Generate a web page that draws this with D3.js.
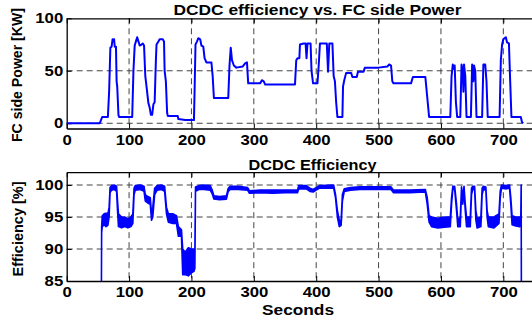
<!DOCTYPE html>
<html>
<head>
<meta charset="utf-8">
<script src="https://cdn.jsdelivr.net/npm/d3@7"></script>
<style>
  body { margin: 0; background: #fff; }
  text { font-family: "Liberation Sans", Arial, sans-serif; font-weight: bold; fill: #000; }
</style>
</head>
<body>
<div id="chart"></div>
<script>
// seconds vs FC side power [kW]
const powerData = [
  [0,0],[53,0],[55,3],[57,6],[66,6],[68,30],[70,72],[72,73],[73.5,80],[75,78],[76,80],[77,73],[79,73],
  [80,40],[81,35],[83,8],[84,6],[105,6],[107,50],[109,74],[111,78],[113,82],[115,78],[117,74],[120,75],
  [122,76],[124,74],[126,45],[128,35],[131,19],[133,15],[135,8],[137,8],[139,18],[141,20],[143,60],
  [144,75],[147,78],[149,80],[154,80],[156,78],[157,50],[159,40],[161,10],[162,7],[178,7],[179,4],
  [190,3],[204,3],[205,30],[206.5,75],[209,78],[211,81],[214,80],[216,74],[219,73],[221,62],[224,58],
  [232,58],[234,45],[236,24],[259,24],[261,55],[263,72],[265,60],[268,55],[272,53],[282,54],[286,57],
  [289,58],[291,38],[310,38],[313,41],[316,40],[318,37],[366,37],[368,60],[370,62],[373,62],[374,75],
  [380,76],[383,76],[384.5,62],[386,76],[391,76],[392.5,50],[395,38],[402,38],[404,55],[406,76],
  [417,76],[419,49],[421,76],[426,76],[428,45],[430,40],[432,20],[434,6],[442,6],[443,35],[445,41],
  [448,48],[456,48],[458,44],[465,44],[467,49],[476,49],[478,53],[500,53],[514,54],[517,56],[520,55],
  [522,40],[524,38],[552,38],[555,44],[575,44],[578,25],[581,6],[615,6],[617,45],[619,56],[620,52],
  [622,55],[624,20],[626,6],[631,6],[633,56],[635,50],[636,30],[637,56],[639,45],[641,6],[648,6],
  [650,56],[652,40],[653,55],[655,50],[657,6],[666,6],[668,56],[671,56],[673,40],[675,6],[694,6],
  [696,60],[698,75],[700,80],[704,82],[706,77],[709,76],[711,40],[713,6],[728,6],[730,1],[732,0]
];

// seconds, efficiency low / high of the noisy trace [%]
const effData = [
  [55.5,80,80],[56,92.5,93.5],[57,93.5,95.2],[60,93.8,95.5],[63,93.5,95.6],[66,93.7,95.5],[68,95,96.5],
  [69.5,98.8,99.6],[72,99.2,99.9],[76,99.3,100],[80,99,99.8],[81.5,96,97.5],[83,93.5,95.5],[88,93.3,95],
  [93,93.5,95],[98,93.3,94.7],[103,93.5,95],[106,94,95.5],[108,98.5,99.5],[110,99.2,99.9],[118,99.3,100],
  [124,99,99.8],[126,97.5,98.5],[130,97.2,98.2],[134,97,98],[136,94.5,95.5],[138,95,96.5],[141,98.5,99.5],
  [145,99.2,99.9],[152,99.3,100],[157,99,99.8],[160,95.5,96.5],[163,94.2,95.5],[170,94,95.5],[176,94,95.2],
  [179,92,93.5],[184,92,93],[186,86,90],[190,86,89.5],[195,85.8,90.2],[200,86.3,90],[204,86.5,90],
  [205.5,87,90],[206.5,99,99.7],[212,99.3,99.9],[220,99.3,100],[230,99.2,99.9],[233,98.7,99.3],
  [236,97.8,98.3],[245,97.7,98.2],[256,97.8,98.3],[259,99,99.5],[262,99.3,99.8],[275,99.3,99.8],
  [290,99.2,99.6],[293,98.7,99.1],[310,98.8,99.2],[330,98.7,99.2],[350,98.8,99.2],[370,98.8,99.2],
  [372,99.4,99.9],[384,99.4,99.9],[390,99,99.5],[395,98.9,99.3],[400,99.2,99.6],[405,99.5,99.9],
  [428,99.5,100],[431,98,98.5],[434,95,96],[437,93.5,94.5],[440,93.7,94.5],[442,97.5,98.5],[445,99,99.4],
  [455,99.2,99.6],[470,99.3,99.7],[500,99.3,99.7],[520,99.3,99.7],[524,98.8,99.2],[550,98.8,99.2],
  [575,98.9,99.3],[578,97,98],[581,94.2,95.2],[585,93.5,95],[595,93.3,94.8],[605,93.4,95],[615,93.5,95],
  [617,97,98],[619,99.3,99.8],[622,99.3,99.8],[625,96,97],[627,93.5,94.5],[631,93.5,95],[633,99,99.7],
  [635,97,98],[637,99.2,99.8],[639,96,97],[641,93.5,95],[647,93.5,95],[649,98.5,99.5],[651,99.3,99.8],
  [654,99.3,99.8],[656,94.5,96],[658,93.3,94.8],[664,93.5,95],[666,98.5,99.5],[668,99.3,99.8],
  [672,99.2,99.7],[674,95,96],[676,93.5,95],[685,93.3,95],[693,94,95.5],[695,98,99],[697,99.5,100],
  [705,99.4,99.9],[710,99.5,100],[712,97,98],[714,93.8,95.2],[720,93.6,95],[726,93.5,95],[728,94,95],
  [728.6,99.7,100],[729,80,80]
];

const xTicks = [0, 100, 200, 300, 400, 500, 600, 700];
const powerTicks = [0, 50, 100];
const effTicks = [85, 90, 95, 100];

const width = 532, height = 321;
const svg = d3.select('#chart').append('svg')
  .attr('width', width).attr('height', height);

// axes run to 800 s; the right part falls outside the picture
const x = d3.scaleLinear().domain([0, 800]).range([66.7, 565.7]);
const yP = d3.scaleLinear().domain([-5, 100]).range([128.5, 18.3]);
const yE = d3.scaleLinear().domain([85, 102]).range([281, 172.2]);

function drawPanel(id, y, yTicks, gridY) {
  const [x0, x1] = x.range();
  const [yb, yt] = y.range();
  const g = svg.append('g');

  g.append('clipPath').attr('id', id)
    .append('rect').attr('x', x0).attr('y', yt).attr('width', x1 - x0).attr('height', yb - yt);

  // dashed grid
  g.selectAll('.gx').data(xTicks.filter(t => t > 0)).enter().append('line')
    .attr('x1', d => x(d)).attr('x2', d => x(d)).attr('y1', yt).attr('y2', yb)
    .attr('stroke', '#444').attr('stroke-dasharray', '6,4');
  g.selectAll('.gy').data(gridY).enter().append('line')
    .attr('x1', x0).attr('x2', x1).attr('y1', d => y(d)).attr('y2', d => y(d))
    .attr('stroke', '#444').attr('stroke-dasharray', '6,4');

  const fixText = sel => sel.selectAll('text')
    .style('font-size', '14px').style('font-family', null)
    .attr('textLength', d => String(d).length * 9.3)
    .attr('lengthAdjust', 'spacingAndGlyphs');

  g.append('g').attr('transform', `translate(0,${yb})`)
    .call(d3.axisBottom(x).tickValues(xTicks).tickSizeInner(-5).tickSizeOuter(0).tickPadding(6.5))
    .call(fixText);
  g.append('g').attr('transform', `translate(0,${yt})`)
    .call(d3.axisTop(x).tickValues(xTicks).tickSizeInner(-5).tickSizeOuter(0).tickFormat(''));
  g.append('g').attr('transform', `translate(${x0},0)`)
    .call(d3.axisLeft(y).tickValues(yTicks).tickSizeInner(-5).tickSizeOuter(0).tickPadding(3.5))
    .call(fixText);

  g.selectAll('.domain').attr('stroke', '#000').attr('stroke-width', 1.3);
  g.selectAll('.tick line').attr('stroke', '#000');
  return g.append('g').attr('clip-path', `url(#${id})`);
}

const powerPanel = drawPanel('clipP', yP, powerTicks, [0, 50]);
powerPanel.append('path').datum(powerData)
  .attr('fill', 'none').attr('stroke', '#0000ff').attr('stroke-width', 2)
  .attr('stroke-linejoin', 'round')
  .attr('d', d3.line().x(d => x(d[0])).y(d => yP(d[1])));

const effPanel = drawPanel('clipE', yE, effTicks, [90, 95, 100]);
effPanel.append('path').datum(effData)
  .attr('fill', '#0000ff').attr('stroke', '#0000ff').attr('stroke-width', 1.6)
  .attr('stroke-linejoin', 'round')
  .attr('d', d3.area().x(d => x(d[0])).y0(d => yE(d[1])).y1(d => yE(d[2])));

// titles and labels
function label(txt, cx, cy, len, rot) {
  svg.append('text').text(txt)
    .attr('text-anchor', 'middle').style('font-size', '14px')
    .attr('textLength', len).attr('lengthAdjust', 'spacingAndGlyphs')
    .attr('transform', `translate(${cx},${cy})` + (rot ? ' rotate(-90)' : ''));
}
label('DCDC efficiency vs. FC side Power', 317.5, 15, 288);
label('DCDC Efficiency', 312.5, 170, 128);
label('Seconds', 298, 315, 72);
label('FC side Power [KW]', 22, 75, 134, true);
label('Efficiency [%]', 23, 229, 95, true);
</script>
</body>
</html>
